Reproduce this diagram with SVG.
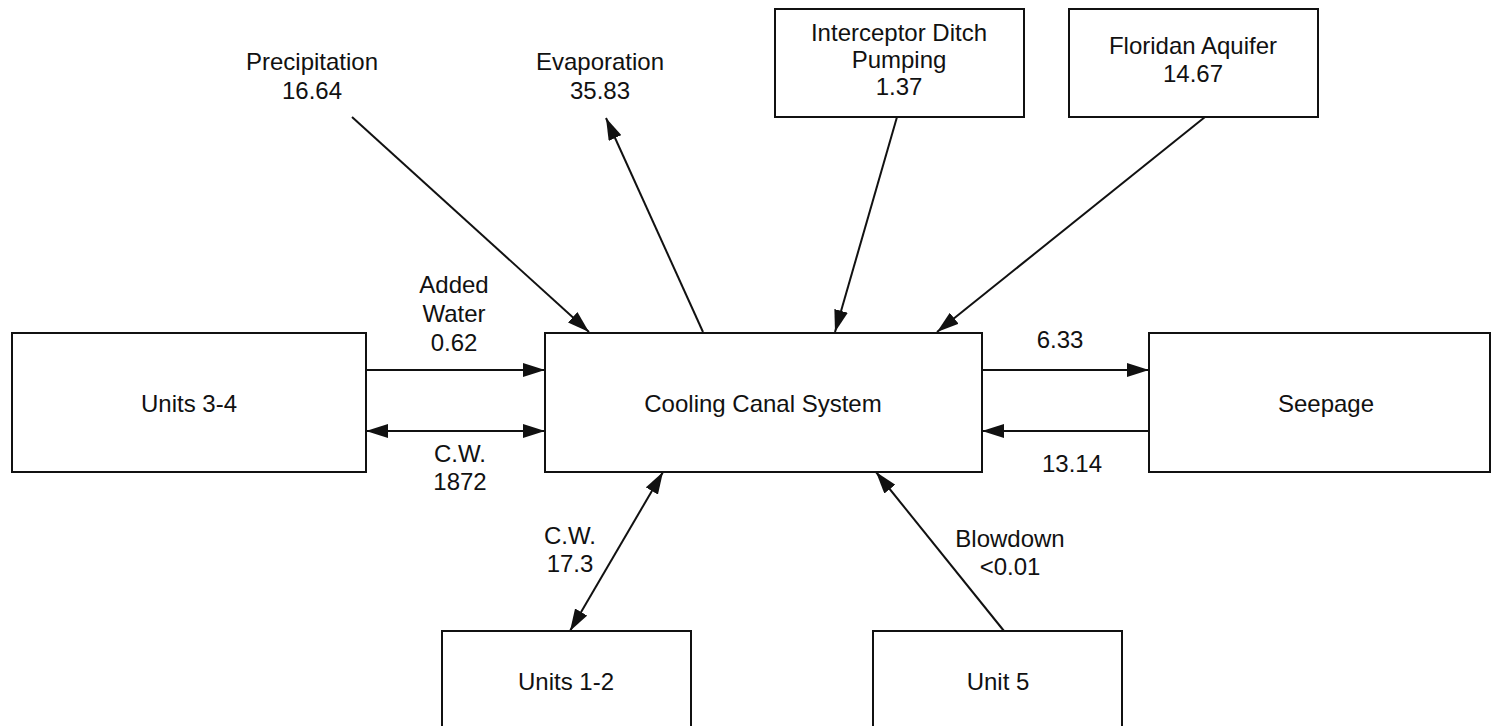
<svg xmlns="http://www.w3.org/2000/svg" width="1492" height="726" viewBox="0 0 1492 726">
<style>
.box{fill:#fff;stroke:#111;stroke-width:2}
.t{font-family:"Liberation Sans",Arial,sans-serif;font-size:24px;fill:#111;text-anchor:middle}
.c{stroke:#111;stroke-width:2;fill:none}
</style>
<defs>
<marker id="ah" viewBox="0 0 22 14" refX="22" refY="7" markerWidth="22" markerHeight="14" markerUnits="userSpaceOnUse" orient="auto-start-reverse">
<path d="M0,0 L22,7 L0,14 Z" fill="#111"/>
</marker>
</defs>
<rect width="1492" height="726" fill="#fff"/>
<g id="connectors">
<line class="c" x1="352" y1="117" x2="589" y2="332" marker-end="url(#ah)"/>
<line class="c" x1="703" y1="332" x2="606" y2="118" marker-end="url(#ah)"/>
<line class="c" x1="897" y1="117" x2="835" y2="332" marker-end="url(#ah)"/>
<line class="c" x1="1205" y1="117" x2="937" y2="332" marker-end="url(#ah)"/>
<line class="c" x1="366" y1="370" x2="545" y2="370" marker-end="url(#ah)"/>
<line class="c" x1="366" y1="431" x2="545" y2="431" stroke-width="3" marker-start="url(#ah)" marker-end="url(#ah)"/>
<line class="c" x1="982" y1="370" x2="1149" y2="370" marker-end="url(#ah)"/>
<line class="c" x1="1149" y1="431" x2="982" y2="431" marker-end="url(#ah)"/>
<line class="c" x1="570" y1="631" x2="663" y2="472" marker-start="url(#ah)" marker-end="url(#ah)"/>
<line class="c" x1="1004" y1="631" x2="876" y2="472" marker-end="url(#ah)"/>
<text class="t" x="454" y="293">Added</text>
<text class="t" x="454" y="322">Water</text>
<text class="t" x="454" y="351">0.62</text>
<text class="t" x="460" y="462">C.W.</text>
<text class="t" x="460" y="490">1872</text>
<text class="t" x="570" y="544">C.W.</text>
<text class="t" x="570" y="572">17.3</text>
<text class="t" x="1010" y="547">Blowdown</text>
<text class="t" x="1010" y="575">&lt;0.01</text>
<text class="t" x="1060" y="348">6.33</text>
<text class="t" x="1072" y="472">13.14</text>
</g>
<g id="precipitation">
<text class="t" x="312" y="70">Precipitation</text>
<text class="t" x="312" y="99">16.64</text>
</g>
<g id="evaporation">
<text class="t" x="600" y="70">Evaporation</text>
<text class="t" x="600" y="99">35.83</text>
</g>
<g id="interceptor">
<rect class="box" x="775" y="9" width="249" height="108"/>
<text class="t" x="899" y="41">Interceptor Ditch</text>
<text class="t" x="899" y="68">Pumping</text>
<text class="t" x="899" y="95">1.37</text>
</g>
<g id="floridan">
<rect class="box" x="1069" y="9" width="249" height="108"/>
<text class="t" x="1193" y="54">Floridan Aquifer</text>
<text class="t" x="1193" y="82">14.67</text>
</g>
<g id="units34">
<rect class="box" x="12" y="333" width="354" height="139"/>
<text class="t" x="189" y="412">Units 3-4</text>
</g>
<g id="ccs">
<rect class="box" x="545" y="333" width="437" height="139"/>
<text class="t" x="763" y="412">Cooling Canal System</text>
</g>
<g id="seepage">
<rect class="box" x="1149" y="333" width="341" height="139"/>
<text class="t" x="1326" y="412">Seepage</text>
</g>
<g id="units12">
<rect class="box" x="442" y="631" width="249" height="96"/>
<text class="t" x="566" y="690">Units 1-2</text>
</g>
<g id="unit5">
<rect class="box" x="873" y="631" width="249" height="96"/>
<text class="t" x="998" y="690">Unit 5</text>
</g>
</svg>
